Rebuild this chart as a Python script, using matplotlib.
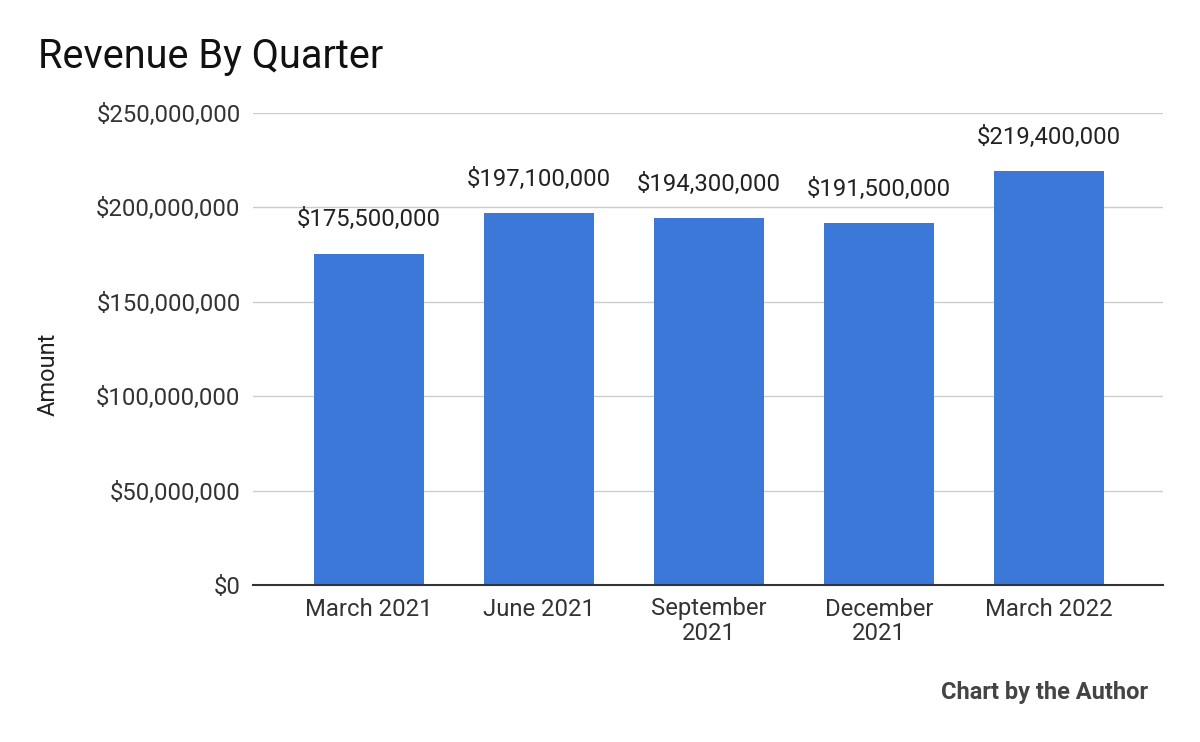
import matplotlib.pyplot as plt
from matplotlib.ticker import FuncFormatter

plt.rcParams['font.family'] = ['Roboto', 'DejaVu Sans']

quarters = ['March 2021', 'June 2021', 'September\n2021', 'December\n2021', 'March 2022']
revenue = [175500000, 197100000, 194300000, 191500000, 219400000]
yticks = [0, 50000000, 100000000, 150000000, 200000000, 250000000]

fig = plt.figure(figsize=(12, 7.42), dpi=100)
ax = fig.add_axes([253/1200, 157/742, 910/1200, 472/742])

x = list(range(len(quarters)))
bars = ax.bar(x, revenue, width=0.647, color='#3c78d8', zorder=3)

for xi, v in zip(x, revenue):
    ax.annotate('${:,.0f}'.format(v), (xi, v), xytext=(0, 16), textcoords='offset points',
                ha='center', va='bottom', fontsize=17.2, color='#222222')

ax.set_xlim(-0.68, 4.67)
ax.set_ylim(0, 250000000)
ax.set_yticks(yticks)
ax.yaxis.set_major_formatter(FuncFormatter(lambda v, p: '${:,.0f}'.format(v)))
ax.set_xticks(x)
ax.set_xticklabels(quarters, linespacing=1.1)
ax.tick_params(axis='both', length=0, labelsize=17.2, labelcolor='#333333')
ax.tick_params(axis='y', pad=9)
ax.tick_params(axis='x', pad=9)
ax.grid(axis='y', color='#cccccc', linewidth=1, zorder=0)
for s in ['top', 'right', 'left']:
    ax.spines[s].set_visible(False)
ax.spines['bottom'].set_color('#333333')
ax.spines['bottom'].set_linewidth(1.5)
ax.spines['bottom'].set_zorder(4)

fig.text(48/1200, 1 - 374/742, 'Amount', fontsize=17, color='#222222', rotation=90,
         va='center', ha='center')

fig.text(38/1200, 1 - 57/742, 'Revenue By Quarter', fontsize=28.5, color='#111111', va='center', ha='left')
fig.text(1148/1200, 1 - 692/742, 'Chart by the Author', fontsize=17, fontweight='bold',
         color='#444444', va='center', ha='right')

fig.savefig('out.png', dpi=100)
